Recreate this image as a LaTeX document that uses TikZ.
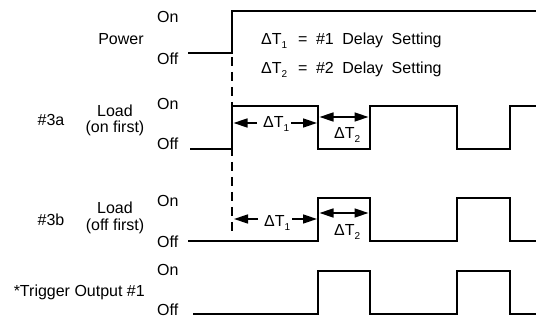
\documentclass[tikz,border=0pt]{standalone}
\usepackage{fontspec}
\setmainfont{Liberation Sans}
\usetikzlibrary{arrows.meta}
\newcommand\dsub[1]{\raisebox{-3.5pt}{\fontsize{10}{10}\selectfont #1}}
\newcommand\dgap{\hspace{8.5pt}}
\begin{document}
\begin{tikzpicture}[x=1pt,y=-1pt,
  wave/.style={line width=1.7pt, line join=miter},
  lbl/.style={inner sep=0pt, font=\fontsize{16}{19}\selectfont},
  onearrow/.style={line width=1.5pt, -{Triangle[length=14pt,width=9pt]}},
  twoarrow/.style={line width=1.5pt, {Triangle[length=14pt,width=9pt]}-{Triangle[length=14pt,width=9pt]}},
  guide/.style={line width=1.7pt, dash pattern=on 9pt off 6pt}]
\useasboundingbox (0,0) rectangle (536,320);

% ---------- label column ----------
\node[lbl,anchor=base] (power) at (121,45) {Power};
\node[lbl,anchor=base west] (pon) at (157,23) {On};
\node[lbl,anchor=base west] (poff) at (157,65) {Off};

\node[lbl,anchor=base] (n3a) at (51,126) {\#3a};
\node[lbl,anchor=base] (loada) at (115,117) {Load};
\node[lbl,anchor=base] (firsta) at (115,133) {(on first)};
\node[lbl,anchor=base west] (aon) at (157,110) {On};
\node[lbl,anchor=base west] (aoff) at (157,150) {Off};

\node[lbl,anchor=base] (n3b) at (51,226) {\#3b};
\node[lbl,anchor=base] (loadb) at (115,214) {Load};
\node[lbl,anchor=base] (firstb) at (115,231) {(off first)};
\node[lbl,anchor=base west] (bon) at (157,207) {On};
\node[lbl,anchor=base west] (boff) at (157,248) {Off};

\node[lbl,anchor=base east] (trig) at (145,297) {*Trigger Output \#1};
\node[lbl,anchor=base west] (ton) at (157,276) {On};
\node[lbl,anchor=base west] (toff) at (157,316) {Off};

% ---------- legend ----------
\node[lbl,anchor=base west] (leg1) at (261,45) {ΔT\dsub{1}\hspace{11pt}=\dgap\#1\dgap Delay\dgap Setting};
\node[lbl,anchor=base west] (leg2) at (261,74) {ΔT\dsub{2}\hspace{11pt}=\dgap\#2\dgap Delay\dgap Setting};

% ---------- waveform end points ----------
\coordinate (ps) at (188,53);  \coordinate (pe) at (536,11);
\coordinate (as) at (190,149); \coordinate (ae) at (536,106);
\coordinate (bs) at (188,241); \coordinate (be) at (536,241);
\coordinate (ts) at (193,314); \coordinate (te) at (536,314);

% power
\draw[wave] (ps) -- (232,53) -- (232,11) -- (pe);
% load 3a
\draw[wave] (as) -- (232,149) -- (232,106) -- (318,106) -- (318,149)
  -- (370,149) -- (370,106) -- (457,106) -- (457,149) -- (510,149) -- (510,106) -- (ae);
% load 3b
\draw[wave] (bs) -- (318,241) -- (318,198) -- (370,198) -- (370,241)
  -- (457,241) -- (457,198) -- (510,198) -- (510,241) -- (be);
% trigger
\draw[wave] (ts) -- (318,314) -- (318,271) -- (370,271) -- (370,314)
  -- (457,314) -- (457,271) -- (510,271) -- (510,314) -- (te);

% dashed guide
\coordinate (g1) at (232,57);
\coordinate (g2) at (232,232);
\draw[guide] (g1) -- (g2);

% ---------- delay arrows, 3a ----------
\coordinate (a1s) at (257,123); \coordinate (a1t) at (233.5,123);
\coordinate (a2s) at (291,123); \coordinate (a2t) at (317,123);
\draw[onearrow] (a1s) -- (a1t);
\draw[onearrow] (a2s) -- (a2t);
\node[lbl,anchor=base west] (adt1) at (263,128) {ΔT\dsub{1}};
\coordinate (a3s) at (319.5,117); \coordinate (a3t) at (368.5,117);
\draw[twoarrow] (a3s) -- (a3t);
\node[lbl,anchor=base west] (adt2) at (334,139) {ΔT\dsub{2}};

% ---------- delay arrows, 3b ----------
\coordinate (b1s) at (258,219); \coordinate (b1t) at (234,219);
\coordinate (b2s) at (292,219); \coordinate (b2t) at (317,219);
\draw[onearrow] (b1s) -- (b1t);
\draw[onearrow] (b2s) -- (b2t);
\node[lbl,anchor=base west] (bdt1) at (264,227) {ΔT\dsub{1}};
\coordinate (b3s) at (319.5,213); \coordinate (b3t) at (368.5,213);
\draw[twoarrow] (b3s) -- (b3t);
\node[lbl,anchor=base west] (bdt2) at (334,236) {ΔT\dsub{2}};
\end{tikzpicture}
\end{document}
